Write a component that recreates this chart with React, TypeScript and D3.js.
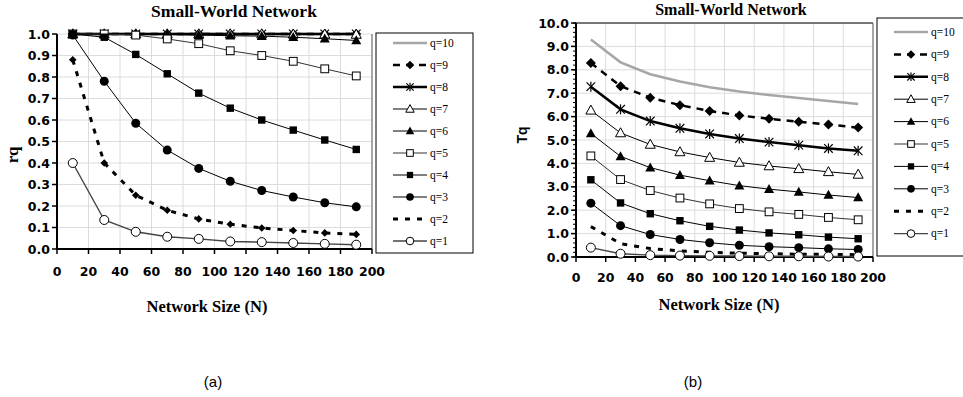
import React from 'react';
import * as d3 from 'd3';

const W = 963;
const H = 397;

// network sizes (x values) and tick labels
const sizes = [10, 30, 50, 70, 90, 110, 130, 150, 170, 190];
const xTicks = [0, 20, 40, 60, 80, 100, 120, 140, 160, 180, 200];
const qNames = [10, 9, 8, 7, 6, 5, 4, 3, 2, 1];

// (a) rq values
const rq1 = [0.40, 0.135, 0.08, 0.057, 0.047, 0.035, 0.032, 0.028, 0.024, 0.02];
const rq2 = [0.88, 0.40, 0.25, 0.18, 0.14, 0.115, 0.098, 0.086, 0.075, 0.068];
const rq3 = [0.995, 0.78, 0.585, 0.46, 0.375, 0.315, 0.272, 0.242, 0.215, 0.196];
const rq4 = [1.0, 0.985, 0.905, 0.815, 0.725, 0.655, 0.60, 0.553, 0.507, 0.463];
const rq5 = [1.0, 1.0, 0.995, 0.977, 0.955, 0.922, 0.90, 0.873, 0.838, 0.805];
const rq6 = [1.0, 1.0, 1.0, 0.998, 0.995, 0.992, 0.99, 0.985, 0.978, 0.97];
const rq7 = [1.0, 1.0, 1.0, 1.0, 1.0, 1.0, 1.0, 0.999, 0.999, 0.998];
const rq8 = [1.0, 1.0, 1.0, 1.0, 1.0, 1.0, 1.0, 1.0, 1.0, 1.0];
const rq9 = [1.0, 1.0, 1.0, 1.0, 1.0, 1.0, 1.0, 1.0, 1.0, 1.0];
const rq10 = [1.0, 1.0, 1.0, 1.0, 1.0, 1.0, 1.0, 1.0, 1.0, 1.0];

// (b) Tq values
const tq1 = [0.40, 0.14, 0.08, 0.06, 0.05, 0.04, 0.03, 0.03, 0.02, 0.02];
const tq2 = [1.30, 0.57, 0.36, 0.26, 0.20, 0.16, 0.14, 0.12, 0.11, 0.10];
const tq3 = [2.30, 1.34, 0.96, 0.75, 0.61, 0.50, 0.44, 0.40, 0.35, 0.32];
const tq4 = [3.30, 2.31, 1.85, 1.55, 1.31, 1.15, 1.03, 0.95, 0.85, 0.78];
const tq5 = [4.32, 3.31, 2.84, 2.52, 2.27, 2.07, 1.93, 1.82, 1.69, 1.59];
const tq6 = [5.28, 4.30, 3.82, 3.50, 3.26, 3.05, 2.90, 2.78, 2.65, 2.54];
const tq7 = [6.27, 5.30, 4.81, 4.49, 4.25, 4.04, 3.89, 3.77, 3.64, 3.53];
const tq8 = [7.28, 6.31, 5.81, 5.50, 5.26, 5.06, 4.91, 4.78, 4.64, 4.54];
const tq9 = [8.29, 7.30, 6.81, 6.49, 6.24, 6.05, 5.91, 5.78, 5.66, 5.53];
const tq10 = [9.29, 8.32, 7.81, 7.50, 7.25, 7.07, 6.92, 6.79, 6.67, 6.54];

type Style = { stroke: string; width: number; dash?: string; marker: string };

const styles: Record<number, Style> = {
  10: { stroke: '#a6a6a6', width: 2.5, marker: 'none' },
  9: { stroke: '#000', width: 2.5, dash: '7,6', marker: 'diamond' },
  8: { stroke: '#000', width: 2.5, marker: 'star' },
  7: { stroke: '#000', width: 1, marker: 'triOpen' },
  6: { stroke: '#000', width: 1, marker: 'tri' },
  5: { stroke: '#333', width: 1, marker: 'sqOpen' },
  4: { stroke: '#000', width: 1, marker: 'sq' },
  3: { stroke: '#000', width: 1, marker: 'dot' },
  2: { stroke: '#000', width: 3, dash: '5,7', marker: 'none' },
  1: { stroke: '#444', width: 1.4, marker: 'dotOpen' },
};

const Marker = ({ kind, x, y, s = 1 }: { kind: string; x: number; y: number; s?: number }) => {
  switch (kind) {
    case 'dot':
      return <circle cx={x} cy={y} r={4.5 * s} fill="#000" />;
    case 'dotOpen':
      return <circle cx={x} cy={y} r={4.5 * s} fill="#fff" stroke="#000" strokeWidth={1} />;
    case 'sq':
      return <rect x={x - 3.7 * s} y={y - 3.7 * s} width={7.4 * s} height={7.4 * s} fill="#000" />;
    case 'sqOpen':
      return <rect x={x - 3.9 * s} y={y - 3.9 * s} width={7.8 * s} height={7.8 * s} fill="#fff" stroke="#000" strokeWidth={1} />;
    case 'tri':
      return <polygon points={`${x},${y - 5.2 * s} ${x + 5 * s},${y + 3.8 * s} ${x - 5 * s},${y + 3.8 * s}`} fill="#000" />;
    case 'triOpen':
      return <polygon points={`${x},${y - 5.2 * s} ${x + 5 * s},${y + 3.8 * s} ${x - 5 * s},${y + 3.8 * s}`} fill="#fff" stroke="#000" strokeWidth={1} />;
    case 'diamond':
      return <polygon points={`${x},${y - 5 * s} ${x + 5 * s},${y} ${x},${y + 5 * s} ${x - 5 * s},${y}`} fill="#000" />;
    case 'diamondSm':
      return <polygon points={`${x},${y - 3.8 * s} ${x + 3.8 * s},${y} ${x},${y + 3.8 * s} ${x - 3.8 * s},${y}`} fill="#000" />;
    case 'star':
      return (
        <g stroke="#000" strokeWidth={1.2}>
          <line x1={x} y1={y - 5 * s} x2={x} y2={y + 5 * s} />
          <line x1={x - 4.3 * s} y1={y - 4.3 * s} x2={x + 4.3 * s} y2={y + 4.3 * s} />
          <line x1={x - 4.3 * s} y1={y + 4.3 * s} x2={x + 4.3 * s} y2={y - 4.3 * s} />
        </g>
      );
    default:
      return null;
  }
};

type PanelProps = {
  series: number[][]; // ordered q=10 .. q=1
  yMax: number;
  yStep: number;
  minorStep?: number;
  plot: { x0: number; x1: number; y0: number; y1: number };
  legend: { x: number; y: number; w: number; h: number; first: number; gap: number };
  title: { x: number; y: number; size: number };
  xTitle: { x: number; y: number };
  yLabel: { text: string; x: number; y: number; font: string; size: number };
  xLabelY: number;
  markerOverride?: Record<number, string>;
  topBorder?: boolean;
};

const Panel = (p: PanelProps) => {
  const x = d3.scaleLinear().domain([0, 200]).range([p.plot.x0, p.plot.x1]);
  const y = d3.scaleLinear().domain([0, p.yMax]).range([p.plot.y1, p.plot.y0]);
  const yTicks = d3.range(0, p.yMax + p.yStep / 2, p.yStep);
  const minor = p.minorStep ? d3.range(0, p.yMax + p.minorStep / 2, p.minorStep) : [];
  const line = d3.line<number>().x((_, i) => x(sizes[i])).y((d) => y(d));
  const tickFont = { fontFamily: 'DejaVu Sans', fontWeight: 700, fontSize: 12.5 };
  const serif = 'Liberation Serif, Times New Roman, serif';

  return (
    <g>
      {/* grid */}
      {xTicks.slice(1).map((t) => (
        <line key={'gx' + t} x1={x(t)} x2={x(t)} y1={p.plot.y0} y2={p.plot.y1} stroke="#dcdcdc" />
      ))}
      {yTicks.slice(1).map((t) => (
        <line key={'gy' + t} x1={p.plot.x0} x2={p.plot.x1} y1={y(t)} y2={y(t)} stroke="#dcdcdc" />
      ))}
      <line x1={p.plot.x1} x2={p.plot.x1} y1={p.plot.y0} y2={p.plot.y1} stroke="#777" strokeWidth={1.2} />
      {p.topBorder && (
        <line x1={p.plot.x0} x2={p.plot.x1} y1={p.plot.y0} y2={p.plot.y0} stroke="#777" strokeWidth={1.8} />
      )}

      {/* axes */}
      <line x1={p.plot.x0} x2={p.plot.x0} y1={p.plot.y0} y2={p.plot.y1} stroke="#000" strokeWidth={2} />
      <line x1={p.plot.x0} x2={p.plot.x1} y1={p.plot.y1} y2={p.plot.y1} stroke="#000" strokeWidth={2} />
      {minor.map((t) => (
        <line key={'mn' + t} x1={p.plot.x0 - 3} x2={p.plot.x0} y1={y(t)} y2={y(t)} stroke="#000" />
      ))}
      {yTicks.map((t) => (
        <g key={'yt' + t}>
          <line x1={p.plot.x0 - 5} x2={p.plot.x0} y1={y(t)} y2={y(t)} stroke="#000" strokeWidth={1.5} />
          <text x={p.plot.x0 - 7} y={y(t)} dy="0.36em" textAnchor="end" {...tickFont}>
            {d3.format('.1f')(t)}
          </text>
        </g>
      ))}
      {xTicks.map((t) => (
        <g key={'xt' + t}>
          <line x1={x(t)} x2={x(t)} y1={p.plot.y1} y2={p.plot.y1 + 5} stroke="#000" strokeWidth={1.5} />
          <text x={x(t)} y={p.xLabelY} dy="0.36em" textAnchor="middle" {...tickFont}>
            {t}
          </text>
        </g>
      ))}

      {/* series, q=10 drawn first */}
      {p.series.map((vals, i) => {
        const q = qNames[i];
        const st = styles[q];
        const mk = (p.markerOverride && p.markerOverride[q]) || st.marker;
        return (
          <g key={'s' + q}>
            <path d={line(vals) || ''} fill="none" stroke={st.stroke} strokeWidth={st.width} strokeDasharray={st.dash} />
            {vals.map((v, j) => (
              <Marker key={j} kind={mk} x={x(sizes[j])} y={y(v)} />
            ))}
          </g>
        );
      })}

      {/* titles */}
      <text x={p.title.x} y={p.title.y} textAnchor="middle" fontFamily={serif} fontWeight={700} fontSize={p.title.size}>
        Small-World Network
      </text>
      <text x={p.xTitle.x} y={p.xTitle.y} textAnchor="middle" fontFamily={serif} fontWeight={700} fontSize={16.5}>
        Network Size (N)
      </text>
      <text
        transform={`translate(${p.yLabel.x},${p.yLabel.y}) rotate(-90)`}
        textAnchor="middle"
        fontFamily={p.yLabel.font}
        fontWeight={700}
        fontSize={p.yLabel.size}
      >
        {p.yLabel.text}
      </text>

      {/* legend */}
      <rect x={p.legend.x} y={p.legend.y} width={p.legend.w} height={p.legend.h} fill="#fff" stroke="#000" strokeWidth={1} />
      {qNames.map((q, i) => {
        const st = styles[q];
        const ly = p.legend.first + i * p.legend.gap;
        const lx0 = p.legend.x + 17;
        const lx1 = lx0 + 34;
        return (
          <g key={'lg' + q}>
            <line x1={lx0} x2={lx1} y1={ly} y2={ly} stroke={st.stroke} strokeWidth={st.width} strokeDasharray={st.dash} />
            <Marker kind={st.marker} x={(lx0 + lx1) / 2} y={ly} s={0.85} />
            <text x={lx1 + 3} y={ly} dy="0.33em" fontFamily={serif} fontSize={11.5}>
              {'q=' + q}
            </text>
          </g>
        );
      })}
    </g>
  );
};

export default function App() {
  const rqSeries = [rq10, rq9, rq8, rq7, rq6, rq5, rq4, rq3, rq2, rq1];
  const tqSeries = [tq10, tq9, tq8, tq7, tq6, tq5, tq4, tq3, tq2, tq1];
  return (
    <svg width={W} height={H} style={{ position: 'absolute', left: 0, top: 0, display: 'block' }}>
      <rect width={W} height={H} fill="#fff" />
      <Panel
        series={rqSeries}
        yMax={1}
        yStep={0.1}
        plot={{ x0: 57, x1: 372, y0: 34, y1: 249 }}
        legend={{ x: 376, y: 33, w: 97, h: 220, first: 43, gap: 22 }}
        title={{ x: 234, y: 17, size: 17.5 }}
        xTitle={{ x: 207, y: 312 }}
        yLabel={{ text: 'rq', x: 18, y: 155, font: 'Liberation Serif, serif', size: 17 }}
        xLabelY={271}
        markerOverride={{ 2: 'diamondSm' }}
      />
      <Panel
        series={tqSeries}
        yMax={10}
        yStep={1}
        minorStep={0.2}
        plot={{ x0: 576, x1: 873, y0: 23, y1: 257 }}
        legend={{ x: 877, y: 18, w: 95, h: 238, first: 32, gap: 22.4 }}
        title={{ x: 731, y: 15, size: 16 }}
        xTitle={{ x: 719, y: 310 }}
        yLabel={{ text: 'Tq', x: 527, y: 135, font: 'Liberation Sans, Arial, sans-serif', size: 14 }}
        xLabelY={277}
        topBorder
      />
      <text x={213} y={387} textAnchor="middle" fontFamily="Liberation Sans, sans-serif" fontSize={15}>
        (a)
      </text>
      <text x={693} y={387} textAnchor="middle" fontFamily="Liberation Sans, sans-serif" fontSize={15}>
        (b)
      </text>
    </svg>
  );
}
